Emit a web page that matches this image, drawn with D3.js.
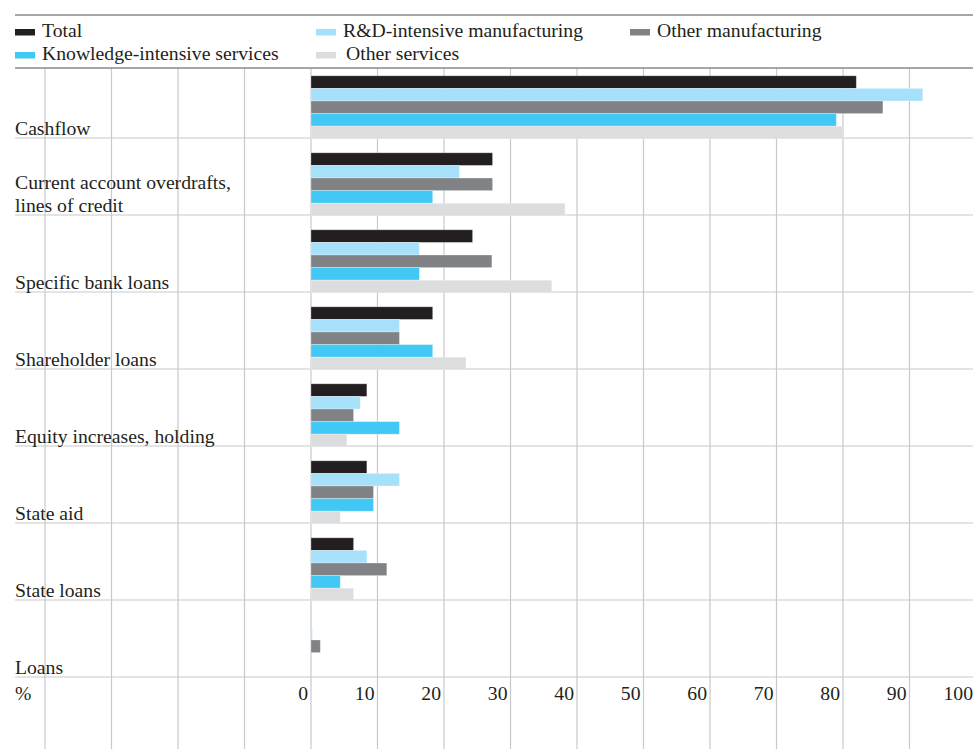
<!DOCTYPE html>
<html lang="en">
<head>
<meta charset="utf-8">
<title>Sources of financing</title>
<script src="https://cdn.jsdelivr.net/npm/d3@7/dist/d3.min.js"></script>
<style>
body{
  margin: 0;
  background: #fff;
}
#chart text{
  font-family: "Liberation Serif", "Times New Roman", serif;
  font-size: 19.7px;
  fill: #231f20;
}
</style>
</head>
<body>
<div id="chart"></div>

<script>
// categories (top to bottom), label lines
var categories = ["Cashflow", "Current account overdrafts,|lines of credit", "Specific bank loans",
  "Shareholder loans", "Equity increases, holding", "State aid", "State loans", "Loans"];

var seriesNames = ["Total", "R&D-intensive manufacturing", "Other manufacturing",
  "Knowledge-intensive services", "Other services"];
var seriesColors = ["#231f20", "#a6e0fa", "#808285", "#42c8f4", "#dcdddf"];

// values in %, one array per series, same order as categories
var total        = [82, 27.3, 24.3, 18.3, 8.4, 8.4, 6.4, 0];
var rdManuf      = [92, 22.3, 16.3, 13.3, 7.4, 13.3, 8.4, 0.2];
var otherManuf   = [86, 27.3, 27.2, 13.3, 6.4, 9.4, 11.4, 1.4];
var knowServices = [79, 18.3, 16.3, 18.3, 13.3, 9.4, 4.4, 0];
var otherServ    = [80, 38.2, 36.2, 23.3, 5.4, 4.4, 6.4, 0];

var tickLabels = [0, 10, 20, 30, 40, 50, 60, 70, 80, 90, 100];

var seriesValues = [total, rdManuf, otherManuf, knowServices, otherServ];

var W = 979, H = 749;
var svg = d3.select("#chart").append("svg")
  .attr("width", W)
  .attr("height", H);

var x = d3.scaleLinear().domain([0, 100]).range([311, 976]);
var y = d3.scaleBand().domain(categories).range([61, 677]); // 77px per category
var inner = d3.scaleBand().domain(d3.range(seriesNames.length)).range([14, 77]);

// vertical grid lines, also to the left of zero
svg.append("g").selectAll("line")
  .data(d3.range(-40, 100, 10))
  .enter().append("line")
  .attr("x1", function(d) { return x(d); })
  .attr("x2", function(d) { return x(d); })
  .attr("y1", 68)
  .attr("y2", H)
  .attr("stroke", "#c9c9cb")
  .attr("stroke-width", 1.2);

// category separators
svg.append("g").selectAll("line")
  .data(categories)
  .enter().append("line")
  .attr("x1", 15)
  .attr("x2", 973)
  .attr("y1", function(d) { return y(d) + y.bandwidth(); })
  .attr("y2", function(d) { return y(d) + y.bandwidth(); })
  .attr("stroke", "#c9c9cb")
  .attr("stroke-width", 1.2);

// top rules around legend
svg.append("g").selectAll("line")
  .data([15, 68])
  .enter().append("line")
  .attr("x1", 15)
  .attr("x2", 973)
  .attr("y1", function(d) { return d; })
  .attr("y2", function(d) { return d; })
  .attr("stroke", "#8a8a8c")
  .attr("stroke-width", 1.3);

// bars
var rows = svg.append("g").selectAll("g")
  .data(categories)
  .enter().append("g")
  .attr("transform", function(d) { return "translate(0," + y(d) + ")"; });

rows.selectAll("rect")
  .data(function(d, i) { return seriesValues.map(function(s, k) { return {k: k, v: s[i]}; }); })
  .enter().append("rect")
  .attr("x", x(0))
  .attr("y", function(d) { return inner(d.k) + 0.8; })
  .attr("width", function(d) { return x(d.v) - x(0); })
  .attr("height", inner.bandwidth())
  .attr("fill", function(d) { return seriesColors[d.k]; })
  .attr("stroke", "#fff")
  .attr("stroke-opacity", 0.35)
  .attr("stroke-width", 0.8);

// category labels, bottom left of each band
rows.append("text")
  .attr("x", 15)
  .attr("y", function(d) { return y.bandwidth() - 3.5 - (d.split("|").length - 1) * 23; })
  .each(function(d) {
    var t = d3.select(this);
    d.split("|").forEach(function(line, i) {
      t.append("tspan").attr("x", 15).attr("dy", i ? 23 : 0).text(line);
    });
  });

// x tick labels
svg.append("g").selectAll("text")
  .data(tickLabels)
  .enter().append("text")
  .attr("x", function(d) { return x(d) - 3; })
  .attr("y", 700)
  .attr("text-anchor", "end")
  .text(function(d) { return d; });

svg.append("text")
  .attr("x", 15)
  .attr("y", 700)
  .text("%");

// legend
var legendPos = [[15, 29], [316, 29], [630, 29], [15, 52], [316, 52]];
var legend = svg.append("g").selectAll("g")
  .data(seriesNames)
  .enter().append("g")
  .attr("transform", function(d, i) { return "translate(" + legendPos[i][0] + "," + legendPos[i][1] + ")"; });

legend.append("rect")
  .attr("width", 20)
  .attr("height", 6.5)
  .attr("fill", function(d, i) { return seriesColors[i]; });

legend.append("text")
  .attr("x", function(d, i) { return i == 4 ? 30 : 27; })
  .attr("y", 8)
  .text(function(d) { return d; });
</script>
</body>
</html>
